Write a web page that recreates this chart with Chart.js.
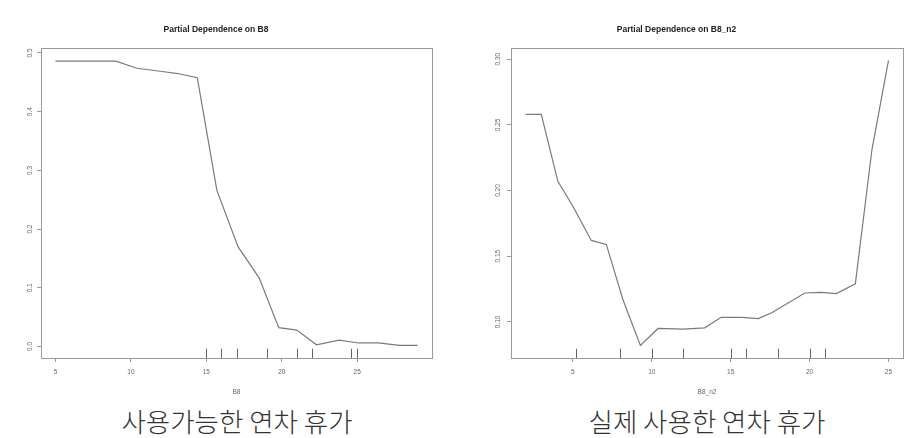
<!DOCTYPE html>
<html>
<head>
<meta charset="utf-8">
<script src="https://cdn.jsdelivr.net/npm/chart.js@4.4.1/dist/chart.umd.min.js"></script>
<style>
  body { margin: 0; background: #fff; width: 904px; height: 438px; overflow: hidden; position: relative; }
  .panel { position: absolute; top: 0; height: 400px; }
  #p1 { left: 0; width: 450px; }
  #p2 { left: 450px; width: 454px; }
  .cap {
    position: absolute; top: 405px; width: 300px; text-align: center; white-space: nowrap;
    font-family: "Noto Sans CJK KR", sans-serif; font-size: 26.5px; font-weight: 300;
    line-height: 32px; color: #333;
  }
</style>
</head>
<body>
<div class="panel" id="p1"><canvas id="chart-1"></canvas></div>
<div class="panel" id="p2"><canvas id="chart-2"></canvas></div>
<div class="cap" style="left:87px">사용가능한 연차 휴가</div>
<div class="cap" style="left:557px">실제 사용한 연차 휴가</div>
<script>
// ==========================================
// 1. DATA
// ==========================================
// left panel: partial dependence on B8
const b8X  = [5, 9, 10.4, 12.2, 13.1, 14.4, 15.7, 17.1, 18.5, 19.8, 21.0, 22.3, 23.8, 25.1, 26.4, 27.8, 29];
const b8Pd = [0.486, 0.486, 0.474, 0.468, 0.465, 0.458, 0.266, 0.170, 0.117, 0.032, 0.028, 0.003, 0.011, 0.006, 0.006, 0.002, 0.002];
const b8Rug = [15, 16, 17, 19, 21, 22, 24.6, 25];
const b8XTicks = [5, 10, 15, 20, 25];
const b8YTicks = [0, 0.1, 0.2, 0.3, 0.4, 0.5];

// right panel: partial dependence on B8_n2
const b8n2X  = [2, 3, 4.05, 5.0, 6.17, 7.12, 8.17, 9.28, 10.4, 12.0, 13.36, 14.4, 15.7, 16.75, 17.6, 19.7, 20.7, 21.7, 22.9, 23.95, 25];
const b8n2Pd = [0.258, 0.258, 0.207, 0.188, 0.162, 0.159, 0.117, 0.082, 0.095, 0.0945, 0.0955, 0.1035, 0.1035, 0.1025, 0.107, 0.122, 0.1225, 0.1215, 0.129, 0.231, 0.299];
const b8n2Rug = [5.2, 8, 10, 12, 15, 16, 18, 20, 21];
const b8n2XTicks = [5, 10, 15, 20, 25];
const b8n2YTicks = [0.10, 0.15, 0.20, 0.25, 0.30];

// ==========================================
// 2. STYLE
// ==========================================
const TICK_FONT = { family: 'Liberation Sans', size: 6.5 };
const TICK_COLOR = '#666';
const FRAME_COLOR = '#9a9a9a';
const LINE_COLOR = '#7a7a7a';

// R-like plot frame and rug marks, drawn through the chart scales
const framePlugin = {
  id: 'frame',
  afterDraw(chart) {
    const { ctx, chartArea: a } = chart;
    ctx.save();
    ctx.strokeStyle = FRAME_COLOR;
    ctx.lineWidth = 1;
    ctx.strokeRect(Math.round(a.left) + 0.5, Math.round(a.top) + 0.5,
      Math.round(a.right - a.left), Math.round(a.bottom - a.top));
    ctx.restore();
  }
};

const rugPlugin = {
  id: 'rug',
  afterDatasetsDraw(chart, args, opts) {
    const { ctx, chartArea: a, scales: { x } } = chart;
    const len = (a.bottom - a.top) * 0.03;
    ctx.save();
    ctx.strokeStyle = '#666';
    ctx.lineWidth = 1;
    ctx.beginPath();
    (opts.values || []).forEach(v => {
      const px = Math.round(x.getPixelForValue(v)) + 0.5;
      ctx.moveTo(px, a.bottom);
      ctx.lineTo(px, a.bottom - len);
    });
    ctx.stroke();
    ctx.restore();
  }
};

// ==========================================
// 3. CHART CONFIG
// ==========================================
function createChartConfig({ title, xTitle, xs, ys, rug, xMin, xMax, yMin, yMax, xTicks, yTicks, yDigits, yWidth, padRight }) {
  return {
    type: 'line',
    data: {
      datasets: [{
        data: xs.map((x, i) => ({ x, y: ys[i] })),
        borderColor: LINE_COLOR,
        borderWidth: 1.2,
        pointRadius: 0,
        tension: 0,
        fill: false
      }]
    },
    plugins: [framePlugin, rugPlugin],
    options: {
      responsive: true,
      maintainAspectRatio: false,
      animation: false,
      layout: { padding: { left: 0, right: padRight, top: 0, bottom: 0 } },
      plugins: {
        legend: { display: false },
        tooltip: { enabled: false },
        rug: { values: rug },
        title: {
          display: true,
          text: title,
          color: '#222',
          font: { family: 'Liberation Sans', size: 8.5, weight: 'bold', lineHeight: 1.2 },
          padding: { top: 24.5, bottom: 13.3 }
        }
      },
      scales: {
        x: {
          type: 'linear',
          min: xMin,
          max: xMax,
          afterBuildTicks: s => { s.ticks = xTicks.map(v => ({ value: v })); },
          afterFit: s => { s.height = 42; },
          border: { display: false },
          grid: { drawOnChartArea: false, drawTicks: true, tickLength: 4, color: FRAME_COLOR },
          ticks: { color: TICK_COLOR, font: TICK_FONT, padding: 6, maxRotation: 0, autoSkip: false },
          title: {
            display: true, text: xTitle, color: TICK_COLOR,
            font: { family: 'Liberation Sans', size: 6.5, lineHeight: 1.2 },
            padding: { top: 0, bottom: 4 }
          }
        },
        y: {
          type: 'linear',
          min: yMin,
          max: yMax,
          afterBuildTicks: s => { s.ticks = yTicks.map(v => ({ value: v })); },
          afterFit: s => { s.width = yWidth; },
          border: { display: false },
          grid: { drawOnChartArea: false, drawTicks: true, tickLength: 4, color: FRAME_COLOR },
          ticks: {
            color: TICK_COLOR, font: TICK_FONT, padding: 2,
            minRotation: 90, maxRotation: 90, crossAlign: 'center', autoSkip: false,
            callback: v => Number(v).toFixed(yDigits)
          }
        }
      }
    }
  };
}

// ==========================================
// 4. INIT
// ==========================================
new Chart(document.getElementById('chart-1'), createChartConfig({
  title: 'Partial Dependence on B8', xTitle: 'B8',
  xs: b8X, ys: b8Pd, rug: b8Rug,
  xMin: 4.04, xMax: 29.96, yMin: -0.0196, yMax: 0.5085,
  xTicks: b8XTicks, yTicks: b8YTicks, yDigits: 1,
  yWidth: 41, padRight: 18
}));

new Chart(document.getElementById('chart-2'), createChartConfig({
  title: 'Partial Dependence on B8_n2', xTitle: 'B8_n2',
  xs: b8n2X, ys: b8n2Pd, rug: b8n2Rug,
  xMin: 1.08, xMax: 25.92, yMin: 0.0725, yMax: 0.3085,
  xTicks: b8n2XTicks, yTicks: b8n2YTicks, yDigits: 2,
  yWidth: 61, padRight: 1
}));
</script>
</body>
</html>
